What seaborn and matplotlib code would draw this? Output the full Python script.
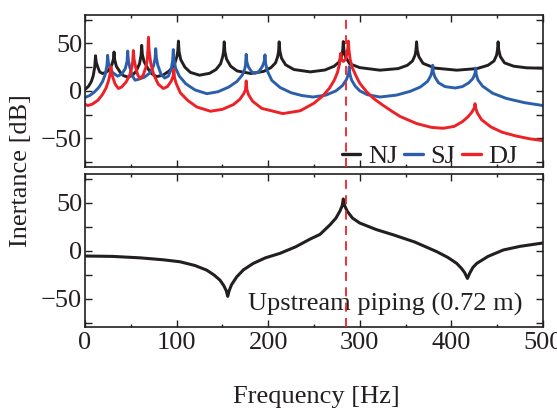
import matplotlib
matplotlib.use("Agg")
import matplotlib.pyplot as plt
from matplotlib.ticker import MultipleLocator
from matplotlib.lines import Line2D
import pandas as pd
import seaborn as sns

# Inertance spectra (frequency [Hz], level [dB]) for the three joint types
nj_points = [
    (0, 1.5), (4, 5), (7, 10), (9, 16), (10.6, 25), (11.5, 37),
    (12.2, 30.5), (13.8, 25.5), (16, 20), (19, 18.3), (23, 19.5), (26, 22), (29.5, 28), (31, 33.5), (31.7, 41),
    (32.4, 33), (34.2, 26), (38.5, 19.5), (42, 16), (47, 14.5), (52, 16.5), (56, 21), (59.5, 28.5), (61.2, 37.5), (61.9, 48),
    (62.6, 38.5), (64.4, 31), (69, 23), (73, 18), (78, 15), (85, 16.5), (92, 21), (97.5, 27.5), (100.3, 36), (101.3, 42), (102, 52.5),
    (102.7, 41.5), (104.5, 33), (109, 25), (115, 19.5), (125, 16.5), (136, 18.5), (143, 22.5), (148, 28.5), (150.3, 36), (151.3, 41.5), (152, 51.7),
    (152.7, 41.5), (154.5, 33.5), (159, 26), (166, 21), (181, 18.3), (195, 20.5), (203, 24.5), (208, 29.5), (210.3, 36), (211.3, 41.5), (212, 51.7),
    (212.7, 42), (214.5, 34.5), (219, 27.5), (228, 22.5), (246, 20), (262, 22), (272, 26), (277.5, 30.5), (280.3, 37), (281.3, 42.5), (282, 52),
    (282.7, 43), (284.5, 35.5), (289, 28.5), (300, 24.5), (322, 21.8), (342, 23.5), (352, 27), (357.5, 31.5), (360.3, 37.5), (361.3, 43), (362, 51.7),
    (362.7, 43), (364.5, 36), (369, 29), (382, 24), (406, 21.8), (428, 23.5), (440, 27), (446.5, 31.5), (449.3, 37.5), (450.3, 43), (451, 51.7),
    (451.7, 43), (453.5, 36), (458, 29.5), (468, 26), (482, 24.3), (500, 23.8),
]

sj_points = [
    (0, -7), (5, -5), (10, -1.5), (15, 3.5), (19, 9.5), (22, 17), (24, 27), (24.7, 37.5),
    (25.4, 30.5), (27.2, 25), (30, 19.5), (35.5, 15.5), (40, 17.5), (44, 23.5), (45.9, 31), (46.6, 42),
    (47.3, 32.5), (49, 24.5), (51.5, 16), (54.6, 11.3), (58, 12), (65, 14.5), (71, 19), (74.7, 26), (76.5, 34), (77.2, 44.5),
    (77.9, 35), (79.5, 27), (83, 17.5), (87, 13.5), (91, 15.5), (94, 22.5), (95.7, 32), (96.4, 43.5),
    (97.1, 33), (98.9, 24), (103, 15.5), (110, 7.5), (120, 1), (133, -3), (145, -1), (157, 4), (166, 10), (172, 17),
    (174.5, 23.5), (175.3, 28), (176, 38.5),
    (176.7, 30.5), (178.5, 25), (182, 20), (186, 18.5), (190, 20.5), (193.8, 26), (195.8, 31.5), (196.5, 38),
    (197.2, 29), (199, 21), (204, 11), (213, 3.5), (225, -2), (237, -5), (249, -6.5), (263, -4.5), (274, 0), (281, 5.5),
    (285.5, 12), (287.8, 18.5), (288.5, 25.5),
    (289.2, 17.5), (291, 11.5), (295, 5), (300, 0), (308, -4), (322, -6.5), (340, -4.5), (355, -0.5), (366, 4), (374, 10),
    (377.5, 16), (378.8, 20.5), (379.5, 27),
    (380.2, 20), (382, 14.5), (386, 8.5), (393, 4.5), (404, 3), (412, 4.5), (419, 8.5), (423.5, 13), (425.8, 18.5), (426.5, 24),
    (427.2, 17), (429, 11.5), (434, 5), (445, -2.5), (460, -8), (480, -12.5), (500, -15.5),
]

dj_points = [
    (0, -14), (3, -15.5), (8, -14), (14, -10), (19, -4), (23, 3), (25.8, 11), (27.3, 17.5), (28.3, 25.5),
    (29, 19), (30.8, 13), (33, 7), (36.4, 2.5), (40, 4), (45, 9.5), (49, 17), (51.2, 25), (52.1, 31), (52.8, 42.5),
    (53.5, 33.5), (55.2, 25.5), (57.5, 17), (60, 13), (63.5, 16.5), (66.5, 25), (68.1, 34), (68.6, 42), (69.3, 56.5),
    (70, 42), (71.8, 29), (75, 17), (80, 7), (85.5, 2.5), (90, 4.5), (94, 10), (96.2, 15.5), (97, 22.5),
    (97.7, 14), (99.5, 8), (104, -2), (112, -10), (122, -17), (137, -21.5), (150, -19.5), (162, -14.5), (169, -9),
    (173.3, -3), (175.2, 1), (176, 10.5),
    (176.7, 1.5), (178.5, -4), (183, -11), (193, -18.5), (216, -24), (235, -21), (250, -13), (260, -5), (267, 3),
    (272, 11), (275.5, 19), (277.8, 28), (279, 39.5),
    (280.2, 33), (282, 31), (284.3, 33), (286, 39), (286.9, 45), (287.5, 52.5),
    (288.2, 43), (289.5, 33), (292, 24), (296.5, 14.5), (300, 8), (307.5, -1), (315, -8), (325, -15), (335, -21.5),
    (344, -27), (362, -34.5), (378, -38.5), (391, -39.5),
    (403, -37.5), (412, -32.5), (418, -27.5), (422.3, -22.5), (425, -18), (425.8, -13.5),
    (426.6, -18.5), (428.4, -23.5), (433, -30.5), (443, -38), (455, -43.5), (470, -47.5), (485, -50.5), (500, -52.5),
]

# Inertance of the upstream piping alone
upstream_points = [
    (0, -5.6), (30, -6), (60, -7.5), (85, -9.5), (103.7, -11.6), (120, -15.5), (132.8, -20.3), (141, -25.5),
    (147.4, -30.8), (151.5, -36.5), (154.3, -42), (155.8, -47.7), (157.3, -42), (160, -35.5), (165.6, -27.4),
    (173, -20), (183.7, -13.3), (197, -7.5), (212.9, -2.8), (230, 4), (245.6, 12), (256.6, 17), (267.5, 27),
    (274, 34), (278.4, 41.5), (280.8, 47), (282, 54), (283.4, 47), (286.4, 41), (292, 34), (300, 28.8),
    (318, 22), (336.6, 16.5), (360, 9), (383.9, -1), (396, -7), (405.8, -13.3), (411, -18.5), (414.5, -23),
    (417.5, -29), (420, -23.5), (423.5, -17.5), (427.7, -13.3), (440, -6), (456.7, 0.7), (475, 4.5), (500, 8),
]

series_names = ["NJ", "SJ", "DJ"]
series_colors = ["#231f20", "#2c5fab", "#ec2227"]
marker_freq = 285
upstream_label = "Upstream piping (0.72 m)"

sns.set_theme(style="ticks")
plt.rcParams["font.family"] = ["Liberation Serif", "DejaVu Serif"]
plt.rcParams["axes.unicode_minus"] = True

FS = 19
W, H = 557, 408
fig = plt.figure(figsize=(W / 100, H / 100), dpi=100)
ax_top = fig.add_axes([85 / W, 1 - 166.7 / H, 458 / W, 151.7 / H])
ax_bot = fig.add_axes([85 / W, 1 - 327.3 / H, 458 / W, 153.3 / H])

handles = []
for name, pts, col in zip(series_names, [nj_points, sj_points, dj_points], series_colors):
    df = pd.DataFrame(pts, columns=["Frequency", "Inertance"])
    sns.lineplot(data=df, x="Frequency", y="Inertance", ax=ax_top, color=col,
                 lw=2.1, estimator=None, sort=False, legend=False)
    handles.append(Line2D([], [], color=col, lw=2.4, label=name))

df_up = pd.DataFrame(upstream_points, columns=["Frequency", "Inertance"])
sns.lineplot(data=df_up, x="Frequency", y="Inertance", ax=ax_bot, color=series_colors[0],
             lw=2.2, estimator=None, sort=False, legend=False)

for ax in (ax_top, ax_bot):
    ax.axvline(marker_freq, color="#ec2227", lw=1.3, ls=(0, (5, 3.5)), zorder=5)
    ax.set_xlim(0, 500)
    ax.set_ylim(-80, 80)
    ax.xaxis.set_major_locator(MultipleLocator(100))
    ax.xaxis.set_minor_locator(MultipleLocator(50))
    ax.yaxis.set_major_locator(MultipleLocator(50))
    ax.yaxis.set_minor_locator(MultipleLocator(25))
    ax.tick_params(which="both", direction="in", top=True, right=True,
                   labelsize=FS, width=1.0, color="#231f20", labelcolor="#231f20")
    ax.tick_params(axis="x", which="major", length=5, pad=3.5)
    ax.tick_params(axis="x", which="minor", length=2.5)
    ax.tick_params(axis="y", which="both", length=5, pad=2)
    for s in ax.spines.values():
        s.set_linewidth(1.2)
        s.set_color("#231f20")
    ax.set_xlabel("")
    ax.set_ylabel("")

ax_top.tick_params(axis="x", labelbottom=False)

leg = ax_top.legend(handles=handles, loc="lower right", bbox_to_anchor=(0.945, -0.01),
                    ncol=3, frameon=False, fontsize=FS, handlelength=0.7,
                    handletextpad=0.3, columnspacing=0.25, borderpad=0, borderaxespad=0)
for t in leg.get_texts():
    t.set_color("#231f20")

ax_bot.text(477.5, -62.5, upstream_label, ha="right", va="baseline",
            fontsize=FS, color="#231f20")

fig.text(21 / W, 1 - 171 / H, "Inertance [dB]", rotation=90, ha="center", va="center",
         fontsize=FS, color="#231f20")
fig.text(316 / W, 1 - 403 / H, "Frequency [Hz]", ha="center", va="baseline",
         fontsize=FS, color="#231f20")

fig.savefig("out.png", dpi=100)
